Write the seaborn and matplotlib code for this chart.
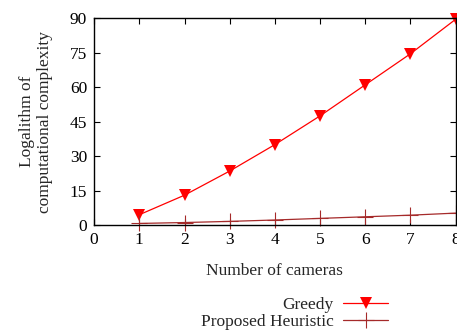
import matplotlib
matplotlib.use("Agg")
import matplotlib.pyplot as plt
import pandas as pd
import seaborn as sns

cameras = [1, 2, 3, 4, 5, 6, 7, 8]
greedy = [4.5, 13.0, 23.5, 35.0, 47.5, 61.0, 74.5, 89.5]
heuristic = [0.7, 1.1, 1.6, 2.2, 2.9, 3.6, 4.3, 5.2]

sns.set_style("ticks")
plt.rcParams['font.family'] = ['Liberation Serif', 'DejaVu Serif']

df = pd.DataFrame({"cameras": cameras, "Greedy": greedy,
                   "Proposed Heuristic": heuristic})

fig = plt.figure(figsize=(4.57, 3.3), dpi=100)
ax = fig.add_axes([0.206, 0.318, 0.791, 0.627])

sns.lineplot(data=df, x="cameras", y="Greedy", ax=ax, color="#ff0000",
             marker="v", markersize=9, markeredgewidth=0, linewidth=0.9,
             clip_on=False)
sns.lineplot(data=df, x="cameras", y="Proposed Heuristic", ax=ax,
             color="#a52a2a", marker="+", markersize=12,
             markeredgecolor="#a52a2a", markeredgewidth=0.8, linewidth=0.9,
             clip_on=False)

ax.set_xlim(0, 8)
ax.set_ylim(0, 90)
ax.set_xticks(range(0, 9))
ax.set_yticks(range(0, 91, 15))
ax.tick_params(direction="in", length=4, width=0.8, top=True, right=True,
               labelsize=12.5, pad=5, colors="black")
for s in ax.spines.values():
    s.set_linewidth(1.0)
    s.set_color("black")
ax.set_xlabel("Number of cameras", fontsize=12.5, labelpad=11)
ax.set_ylabel("Logalithm of\ncomputational complexity", fontsize=12.5,
              labelpad=12, linespacing=1.15)

lines = ax.get_lines()
fig.legend([lines[0]], ["Greedy"], loc="center right",
           bbox_to_anchor=(0.85 + 0.0, 0.077), frameon=False, markerfirst=False,
           fontsize=12.5, handlelength=2.6, borderpad=0, handletextpad=0.55,
           borderaxespad=0)
fig.legend([lines[1]], ["Proposed Heuristic"], loc="center right",
           bbox_to_anchor=(0.85, 0.025), frameon=False, markerfirst=False,
           fontsize=12.5, handlelength=2.6, borderpad=0, handletextpad=0.55,
           borderaxespad=0)

fig.savefig("out.png", dpi=100)
